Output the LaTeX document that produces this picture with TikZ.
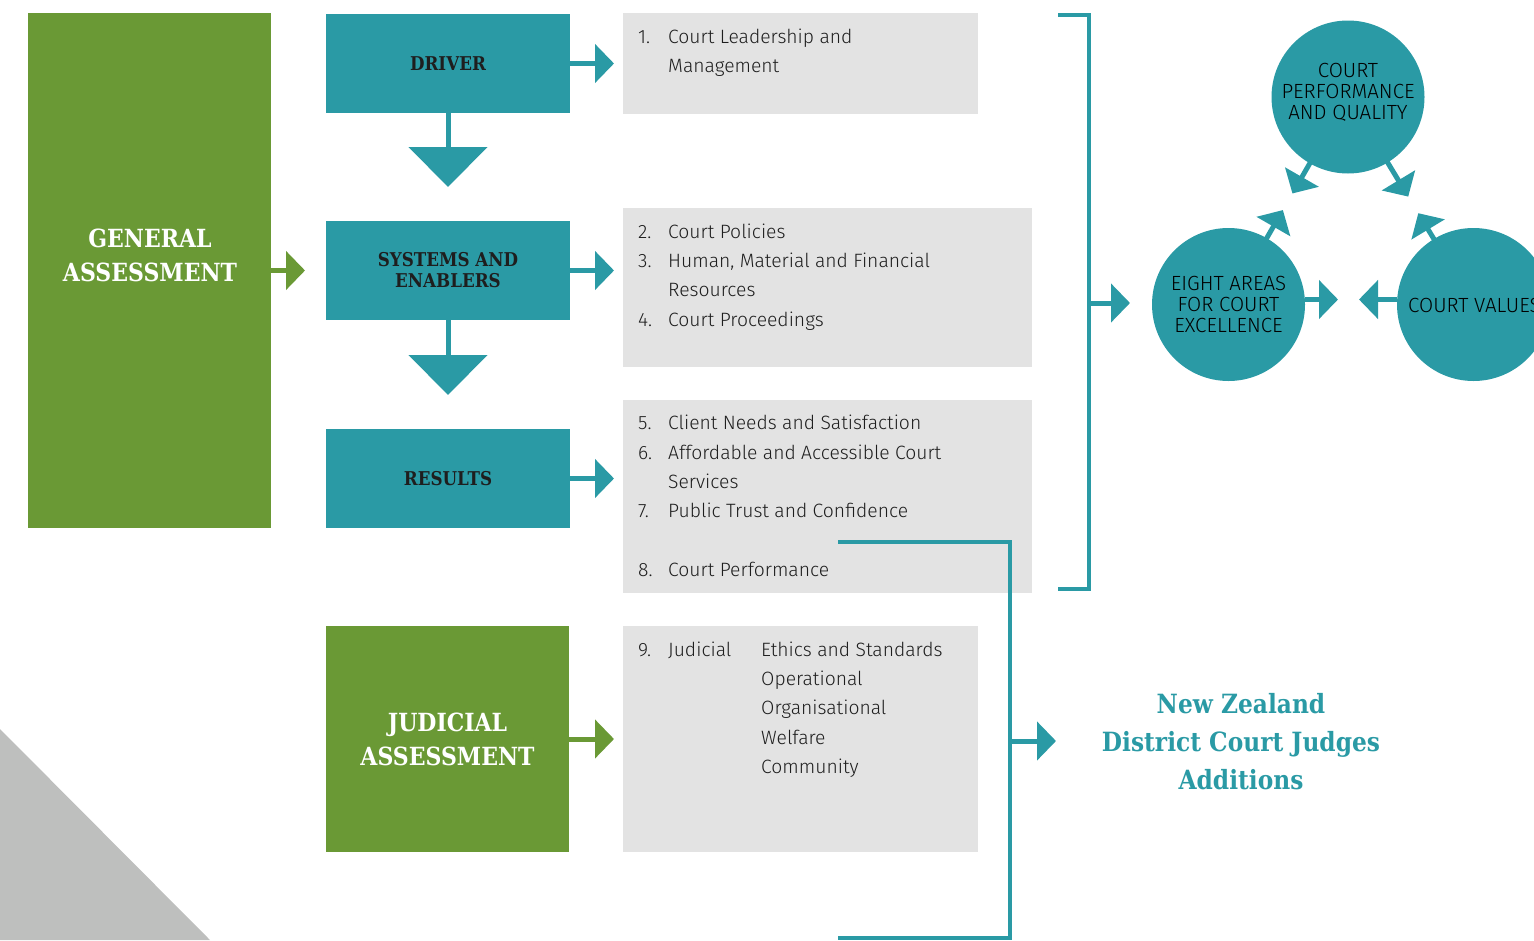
\documentclass[tikz,border=0pt]{standalone}
\usepackage{fontspec}
\setmainfont{Fira Sans}[UprightFont={* Light}]
\newfontfamily\slab{DejaVu Serif}[UprightFont={* Bold}, FakeStretch=0.88]
\usetikzlibrary{arrows.meta,calc}

\definecolor{ctteal}{HTML}{2A9AA5}
\definecolor{ctgreen}{HTML}{6A9935}
\definecolor{ctgrey}{HTML}{E3E3E3}
\definecolor{cttri}{HTML}{BEBFBE}
\definecolor{ctink}{HTML}{1E1E1E}

\tikzset{
  panel/.style={anchor=north west, inner sep=0pt, outer sep=0pt},
  greenbox/.style={panel, fill=ctgreen},
  tealbox/.style={panel, fill=ctteal},
  greybox/.style={panel, fill=ctgrey},
  headtext/.style={align=center, inner sep=0pt, text=ctink, font=\slab\fontsize{19}{21}\selectfont},
  bigtext/.style={align=center, inner sep=0pt, text=white, font=\slab\fontsize{25}{34}\selectfont},
  item/.style={anchor=base west, inner sep=0pt, text=ctink, font=\fontsize{19.3}{23}\selectfont},
  disc/.style={circle, fill=ctteal, minimum size=153pt, inner sep=0pt},
  disctext/.style={align=center, inner sep=0pt, text=black, font=\fontsize{20.5}{21}\selectfont},
  arr/.style={line width=5pt, -{Triangle[length=19pt,width=38pt]}},
  downarr/.style={ctteal, line width=5pt, -{Triangle[length=40pt,width=78pt]}},
  bracket/.style={ctteal, line width=4pt},
}

\begin{document}
\begin{tikzpicture}[x=1pt,y=-1pt]
\useasboundingbox (0,0) rectangle (1534,940);

% corner wedge
\fill[cttri] (0,729) -- (0,940) -- (210,940) -- cycle;

% assessment blocks
\node[greenbox, minimum width=243pt, minimum height=515pt] (gen) at (28,13) {};
\node[bigtext] (gentext) at (150,255) {GENERAL\\ASSESSMENT};
\node[greenbox, minimum width=243pt, minimum height=226pt, bigtext, text=white] (jud) at (326,626) {JUDICIAL\\ASSESSMENT};

% driver / systems / results
\node[tealbox, minimum width=244pt, minimum height=99pt, headtext] (drv) at (326,14) {DRIVER};
\node[tealbox, minimum width=244pt, minimum height=99pt, headtext] (sys) at (326,221) {SYSTEMS AND\\ENABLERS};
\node[tealbox, minimum width=244pt, minimum height=99pt, headtext] (res) at (326,429) {RESULTS};

% grey lists
\node[greybox, minimum width=355pt, minimum height=101pt] (g1) at (623,13) {};
\node[greybox, minimum width=409pt, minimum height=159pt] (g2) at (623,208) {};
\node[greybox, minimum width=409pt, minimum height=193pt] (g3) at (623,400) {};
\node[greybox, minimum width=355pt, minimum height=226pt] (g4) at (623,626) {};

\node[item] (n1) at (638,43) {1.};
\node[item] (t1a) at (668,43) {Court Leadership and};
\node[item] (t1b) at (668,72) {Management};

\node[item] (n2) at (638,238) {2.};
\node[item] (t2) at (668,238) {Court Policies};
\node[item] (n3) at (638,267) {3.};
\node[item] (t3a) at (668,267) {Human, Material and Financial};
\node[item] (t3b) at (668,296) {Resources};
\node[item] (n4) at (638,326) {4.};
\node[item] (t4) at (668,326) {Court Proceedings};

\node[item] (n5) at (638,429) {5.};
\node[item] (t5) at (668,429) {Client Needs and Satisfaction};
\node[item] (n6) at (638,459) {6.};
\node[item] (t6a) at (668,459) {Affordable and Accessible Court};
\node[item] (t6b) at (668,488) {Services};
\node[item] (n7) at (638,517) {7.};
\node[item] (t7) at (668,517) {Public Trust and Confidence};
\node[item] (n8) at (638,576) {8.};
\node[item] (t8) at (668,576) {Court Performance};

\node[item] (n9) at (638,656) {9.};
\node[item] (t9) at (668,656) {Judicial};
\node[item] (t9a) at (761,656) {Ethics and Standards};
\node[item] (t9b) at (761,685) {Operational};
\node[item] (t9c) at (761,714) {Organisational};
\node[item] (t9d) at (761,744) {Welfare};
\node[item] (t9e) at (761,773) {Community};

% arrow ends
\coordinate (genE) at (305,270.5);
\coordinate (drvE) at (614,63.5);
\coordinate (sysE) at (614,270.5);
\coordinate (resE) at (614,478.5);
\coordinate (judE) at (614,739);
\coordinate (drvS) at (448,187);
\coordinate (sysS) at (448,395);

\draw[arr, ctgreen] (gen.east) -- (genE);
\draw[arr, ctgreen] (jud.east) -- (judE);
\draw[arr, ctteal] (drv.east) -- (drvE);
\draw[arr, ctteal] (sys.east) -- (sysE);
\draw[arr, ctteal] (res.east) -- (resE);
\draw[downarr] (drv.south) -- (drvS);
\draw[downarr] (sys.south) -- (sysS);

% bracket gathering items 1-8
\coordinate (bA) at (1058,15);
\coordinate (bB) at (1089,15);
\coordinate (bC) at (1089,589);
\coordinate (bD) at (1058,589);
\coordinate (bM) at (1089,303);
\coordinate (bT) at (1130,303);
\draw[bracket] (bA) -- (bB) -- (bC) -- (bD);
\draw[arr, ctteal] (bM) -- (bT);

% bracket for the judges' additions
\coordinate (jA) at (838,542);
\coordinate (jB) at (1010,542);
\coordinate (jC) at (1010,938);
\coordinate (jD) at (838,938);
\coordinate (jM) at (1010,741);
\coordinate (jT) at (1056,741);
\draw[bracket] (jA) -- (jB) -- (jC) -- (jD);
\draw[arr, ctteal] (jM) -- (jT);

\node[align=center, inner sep=0pt, text=ctteal, font=\slab\fontsize{26.5}{38}\selectfont] (nz) at (1241,742)
  {New Zealand\\District Court Judges\\Additions};

% cycle of circles
\node[disc] (cpq) at (1348,97) {};
\node[disctext] (cpqt) at (1348,92) {COURT\\PERFORMANCE\\AND QUALITY};
\node[disc, disctext] (eight) at (1228.5,304.5) {EIGHT AREAS\\FOR COURT\\EXCELLENCE};
\node[disc] (cv) at (1473.5,304.5) {};
\node[disctext, anchor=west] (cvt) at (1408,305) {COURT VALUES};

\draw[arr, ctteal] ($(cpq)!70pt!(eight)$) -- ($(cpq)!0.465!(eight)$);
\draw[arr, ctteal] ($(eight)!70pt!(cpq)$) -- ($(eight)!0.455!(cpq)$);
\draw[arr, ctteal] ($(cpq)!70pt!(cv)$) -- ($(cpq)!0.48!(cv)$);
\draw[arr, ctteal] ($(cv)!70pt!(cpq)$) -- ($(cv)!0.44!(cpq)$);

\coordinate (ecv) at (1338,299.5);
\coordinate (cve) at (1359,299.5);
\draw[arr, ctteal] ([yshift=5pt]eight.east) -- (ecv);
\draw[arr, ctteal] ([yshift=5pt]cv.west) -- (cve);
\end{tikzpicture}
\end{document}
